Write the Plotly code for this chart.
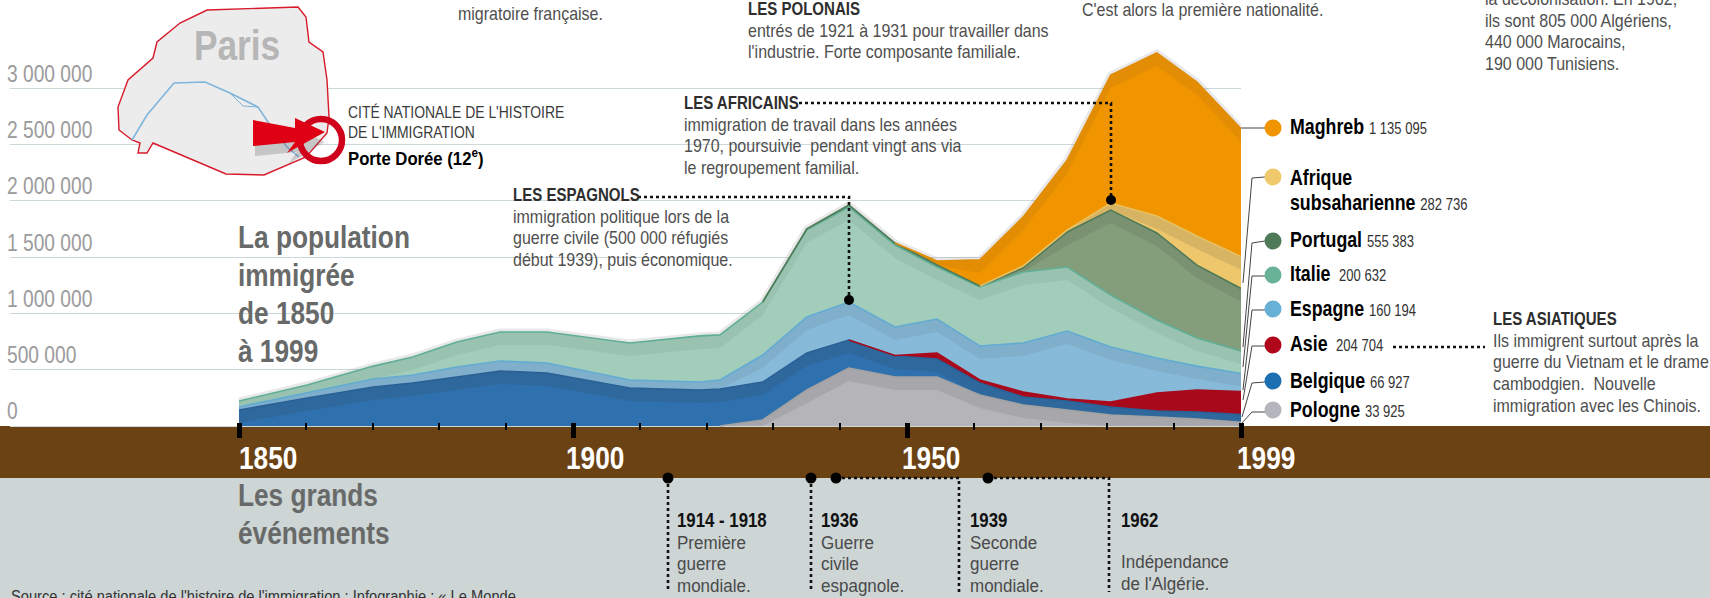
import json
import numpy as np
import plotly.graph_objects as go

W, H = 1710, 598
NARROW = "Liberation Sans"

# ---------- data (thousands of people) ----------
YEARS = [1850, 1860.2, 1870.1, 1876, 1882.6, 1889.1, 1896.1, 1908.5, 1919, 1922, 1928.4,
         1935, 1941.3, 1948.2, 1954.5, 1960.9, 1967.4, 1974, 1980.5, 1987.4, 1993.4, 2000]
POLOGNE = [0, 0, 0, 0, 0, 0, 0, 0, 0, 0, 53, 320, 515, 435, 435, 275, 187, 142, 98, 80, 62, 33.925]
BELGIQUE = [142, 249, 346, 382, 435, 488, 471, 337, 320, 329, 337, 329, 249, 187, 160, 107, 71, 80, 71, 53, 62, 66.927]
ASIE = [0, 0, 0, 0, 0, 0, 0, 0, 0, 0, 0, 0, 0, 4, 53, 27, 44, 18, 44, 160, 195, 204.704]
ESPAGNE = [27, 44, 71, 71, 89, 89, 89, 71, 71, 80, 240, 320, 337, 253, 302, 302, 435, 604, 488, 311, 213, 160.194]
ITALIE = [53, 71, 115, 160, 222, 258, 275, 329, 409, 400, 471, 773, 844, 728, 462, 524, 631, 568, 462, 337, 249, 200.632]
PORTUGAL = [0, 0, 0, 0, 0, 0, 0, 0, 0, 0, 0, 9, 18, 18, 18, 9, 36, 311, 755, 773, 648, 555.383]
AFRIQUE = [0, 0, 0, 0, 0, 0, 0, 0, 0, 0, 0, 0, 0, 0, 0, 0, 18, 18, 62, 151, 258, 282.736]
MAGHREB = [0, 0, 0, 0, 0, 0, 0, 0, 0, 0, 0, 0, 0, 0, 36, 231, 435, 622, 1137, 1448, 1368, 1135.095]

SERIES_NAMES = ["Pologne", "Belgique", "Asie", "Espagne", "Italie", "Portugal", "Afrique subsaharienne", "Maghreb"]
SERIES_VALUES = [POLOGNE, BELGIQUE, ASIE, ESPAGNE, ITALIE, PORTUGAL, AFRIQUE, MAGHREB]
FILL_COLORS = ["#b4b4b9", "#2f71ae", "#a80a1c", "#87bad9", "#a2cdba", "#849d7a", "#eec76c", "#f09400"]
EDGE_COLORS = ["#a3a3a3", "#2a6096", "#a80a1c", "#62abd2", "#5fae96", "#4f7a58", "#e8c060", "#e08c08"]
BAND_ALPHA = [0.10, 0.14, 0.0, 0.08, 0.07, 0.10, 0.12, 0.07]
LEGEND_COLORS = ["#b5b5bd", "#1c6fb0", "#b0061c", "#67b1d6", "#68b298", "#4f7a58", "#efc96c", "#f09400"]

Y_TICKS = [0, 500000, 1000000, 1500000, 2000000, 2500000, 3000000]
Y_LABELS = ["0", "500 000", "1 000 000", "1 500 000", "2 000 000", "2 500 000", "3 000 000"]
X_MAJOR = [1850, 1900, 1950, 2000]
X_MINOR = [1860, 1870, 1880, 1890, 1910, 1920, 1930, 1940, 1960, 1970, 1980, 1990]
X_LABELS = ["1850", "1900", "1950", "1999"]

LEGEND = [("Maghreb", "1 135 095", 128), ("Portugal", "555 383", 241), ("Italie", " 200 632", 275),
          ("Espagne", "160 194", 309), ("Asie", " 204 704", 345), ("Belgique", "66 927", 381),
          ("Pologne", "33 925", 410)]

# ---------- page helpers ----------
def px(x):
    return x / W

def py(y):
    return 1 - y / H

shapes, notes, squeeze = [], [], []

def text(x, y, s, size=18, color="#4a4a4a", sq=0.82):
    notes.append(dict(xref="paper", yref="paper", x=px(x), y=py(y), text=s, showarrow=False,
                      xanchor="left", yanchor="middle", align="left", borderpad=0,
                      font=dict(family=NARROW, size=size, color=color)))
    squeeze.append(sq)

def rect(x0, y0, x1, y1, color, layer="below"):
    shapes.append(dict(type="rect", xref="paper", yref="paper", x0=px(x0), x1=px(x1), y0=py(y0), y1=py(y1),
                       fillcolor=color, line_width=0, layer=layer))

def line(pts, color="#000000", width=1.0, dash="solid", layer="above"):
    path = "M " + " L ".join(f"{px(a):.5f},{py(b):.5f}" for a, b in pts)
    shapes.append(dict(type="path", xref="paper", yref="paper", path=path,
                       line=dict(color=color, width=width, dash=dash), layer=layer))

def poly(pts, fill, edge=None, width=0, opacity=1.0, layer="above"):
    path = "M " + " L ".join(f"{px(a):.5f},{py(b):.5f}" for a, b in pts) + " Z"
    shapes.append(dict(type="path", xref="paper", yref="paper", path=path, fillcolor=fill, opacity=opacity,
                       line=dict(color=edge or fill, width=width), layer=layer))

def dot(x, y, r, color="#000000", edge=None, width=0, fill=True):
    shapes.append(dict(type="circle", xref="paper", yref="paper", x0=px(x - r), x1=px(x + r),
                       y0=py(y - r), y1=py(y + r), fillcolor=color if fill else "rgba(0,0,0,0)",
                       line=dict(color=edge or color, width=width), layer="above"))

# ---------- background bands and gridline breaks ----------
rect(0, 426, W, 478, "#6b4213")
rect(0, 478, W, H, "#cdd5d5")
rect(119, 80, 333, 97, "#ffffff", "between")
rect(117, 135, 346, 152, "#ffffff", "between")
rect(680, 135, 972, 152, "#ffffff", "between")
rect(484, 190, 748, 265, "#ffffff", "between")

# ---------- Paris map ----------
poly([(207, 10), (298, 7), (306, 17), (309, 42), (323, 52), (327, 80), (329, 117), (327, 133), (306, 157),
      (264, 175), (226, 174), (153, 143), (147, 153), (138, 153), (140, 143), (132, 140), (119, 130),
      (118, 107), (128, 80), (153, 58), (157, 42), (180, 23)], "#ececec", "#d8192a", 1.4)
line([(132, 140), (147, 115), (174, 83), (205, 82), (230, 93), (258, 107), (268, 122), (287, 147), (299, 157)],
     "#7fb5dc", 1.6)
line([(230, 93), (243, 106), (258, 107)], "#7fb5dc", 1.0)
poly([(255, 128), (297, 136), (297, 128), (325, 142), (289, 163), (297, 152), (255, 156)], "#555555", opacity=0.25)
dot(321, 140, 21, edge="#d0021b", width=6.5, fill=False)
poly([(253, 120), (295, 128), (295, 118), (325, 132), (287, 153), (295, 142), (253, 146)], "#e00016")
text(193, 45, "<b>Paris</b>", 43, "#b6b6b6")

# ---------- dotted callouts ----------
DOTTED = dict(color="#111111", width=2.6, dash="dot")
line([(638, 197), (849, 197), (849, 298)], **DOTTED)
dot(849, 300, 5)
line([(799, 103), (1111, 103), (1111, 198)], **DOTTED)
dot(1111, 200, 5)
line([(1393, 347), (1485, 347)], **DOTTED)
line([(668, 478), (668, 590)], **DOTTED)
dot(668, 478, 5.5)
line([(811, 478), (811, 590)], **DOTTED)
dot(811, 478, 5.5)
line([(836, 478), (959, 478), (959, 592)], **DOTTED)
dot(836, 478, 5.5)
line([(988, 478), (1109, 478), (1109, 592)], **DOTTED)
dot(988, 478, 5.5)

# ---------- legend ----------
LEG_COL = dict(zip(SERIES_NAMES, LEGEND_COLORS))
LEADERS = {"Afrique subsaharienne": [(1243, 283), (1252, 178), (1265, 177)],
           "Portugal": [(1243, 347), (1252, 243), (1265, 241)],
           "Italie": [(1243, 367), (1252, 276), (1265, 276)],
           "Espagne": [(1243, 390), (1252, 310), (1265, 310)],
           "Asie": [(1243, 400), (1252, 346), (1265, 346)],
           "Belgique": [(1242, 417), (1252, 383), (1265, 382)],
           "Pologne": [(1242, 423), (1252, 412), (1265, 412)],
           "Maghreb": [(1241, 128), (1265, 128)]}
for name, pts in LEADERS.items():
    line(pts, "#444444", 1.0)
VALUE_SPAN = "<span style='font-size:16.5px;color:#333333'>{}</span>"
for name, value, y in LEGEND:
    dot(1273, y, 8.5, LEG_COL[name])
    text(1289, y - 1, f"<b>{name}</b> " + VALUE_SPAN.format(value), 22.5, "#000000", 0.79)
dot(1273, 177, 8.5, LEG_COL["Afrique subsaharienne"])
text(1289, 177, "<b>Afrique</b>", 22.5, "#000000", 0.79)
text(1289, 202, "<b>subsaharienne</b> " + VALUE_SPAN.format("282 736"), 22.5, "#000000", 0.79)

# ---------- text blocks ----------
def block(x, y0, head, lines, step=21.7):
    y = y0
    if head:
        text(x, y, f"<b>{head}</b>", 17.5, "#2e2e2e", 0.86)
        y += step
    for s in lines:
        text(x, y, s, 18, "#4f4f4f", 0.89)
        y += step

block(457, 14, None, ["migratoire française."])
block(747, 9, "LES POLONAIS", ["entrés de 1921 à 1931 pour travailler dans", "l'industrie. Forte composante familiale."])
block(1081, 10, None, ["C'est alors la première nationalité."])
block(1484, -1, None, ["la décolonisation. En 1962,", "ils sont 805 000 Algériens,", "440 000 Marocains,", "190 000 Tunisiens."])
block(683, 103, "LES AFRICAINS", ["immigration de travail dans les années", "1970, poursuivie  pendant vingt ans via", "le regroupement familial."])
block(512, 195, "LES ESPAGNOLS", ["immigration politique lors de la", "guerre civile (500 000 réfugiés", "début 1939), puis économique."])
block(1492, 319, "LES ASIATIQUES", ["Ils immigrent surtout après la", "guerre du Vietnam et le drame", "cambodgien.  Nouvelle", "immigration avec les Chinois."])
text(347, 112, "CITÉ NATIONALE DE L'HISTOIRE", 16, "#3a3a3a", 0.87)
text(347, 133, "DE L'IMMIGRATION", 16, "#3a3a3a", 0.87)
text(347, 157, "<b>Porte Dorée (12<sup>e</sup>)</b>", 19, "#000000", 0.88)

TITLE = "#686a6a"
for s, y in [("La population", 237), ("immigrée", 275), ("de 1850", 313), ("à 1999", 351)]:
    text(237, y, f"<b>{s}</b>", 32, TITLE)
text(237, 495, "<b>Les grands</b>", 32, TITLE)
text(237, 533, "<b>événements</b>", 32, TITLE)

for x, lab in zip([238, 565, 901, 1236], X_LABELS):
    text(x, 458, f"<b>{lab}</b>", 32, "#ffffff")

EVENTS = [(676, "1914 - 1918", ["Première", "guerre", "mondiale."]),
          (820, "1936", ["Guerre", "civile", "espagnole."]),
          (969, "1939", ["Seconde", "guerre", "mondiale."])]
for x, head, body in EVENTS:
    text(x, 519, f"<b>{head}</b>", 20.5, "#111111")
    for i, s in enumerate(body):
        text(x, 542 + 21.5 * i, s, 18.5, "#4a4a4a", 0.92)
text(1120, 519, "<b>1962</b>", 20.5, "#111111")
text(1120, 561, "Indépendance", 18.5, "#4a4a4a", 0.92)
text(1120, 583, "de l'Algérie.", 18.5, "#4a4a4a", 0.92)
text(10, 596, "Source : cité nationale de l'histoire de l'immigration ; Infographie : « Le Monde", 16.5, "#333333", 0.89)

# ---------- traces ----------
Y_PER_PX = 500000 / 56.3
BAND_DEPTH = 13 * Y_PER_PX
fig = go.Figure()
cum = np.cumsum(np.array(SERIES_VALUES, dtype=float), axis=0) * 1000
fig.add_trace(go.Scatter(x=YEARS, y=cum[-1], mode="lines", hoverinfo="skip", showlegend=False,
                         line=dict(color="rgba(110,110,110,0.16)", width=7)))
base = np.zeros(len(YEARS))
rev = YEARS[::-1]
for i, name in enumerate(SERIES_NAMES):
    fig.add_trace(go.Scatter(x=YEARS + rev, y=list(cum[i]) + list(base[::-1]), mode="lines", fill="toself",
                             fillcolor=FILL_COLORS[i], line=dict(width=0), name=name, showlegend=False,
                             hoverinfo="skip"))
    if BAND_ALPHA[i] > 0:
        low = np.maximum(base, cum[i] - BAND_DEPTH)
        fig.add_trace(go.Scatter(x=YEARS + rev, y=list(cum[i]) + list(low[::-1]), mode="lines", fill="toself",
                                 fillcolor=f"rgba(50,50,50,{BAND_ALPHA[i]})", line=dict(width=0),
                                 showlegend=False, hoverinfo="skip"))
    base = cum[i]
for i, name in enumerate(SERIES_NAMES):
    vals = np.array(SERIES_VALUES[i], dtype=float)
    keep = vals > 0
    keep[:-1] |= vals[1:] > 0
    fig.add_trace(go.Scatter(x=YEARS, y=np.where(keep, cum[i], np.nan), mode="lines", showlegend=False,
                             hoverinfo="skip", connectgaps=False,
                             line=dict(color=EDGE_COLORS[i], width=1.6)))

fig.update_layout(
    width=W, height=H, margin=dict(l=0, r=0, t=0, b=0), paper_bgcolor="#ffffff", plot_bgcolor="rgba(0,0,0,0)",
    showlegend=False, shapes=shapes, annotations=notes,
    xaxis=dict(domain=[px(10), px(1241)], range=[1850 - 229 / 6.68, 2000], anchor="free", position=py(422),
               tickmode="array", tickvals=X_MAJOR, showticklabels=False, ticks="outside", ticklen=15,
               tickwidth=4.5, tickcolor="#000000", showgrid=False, zeroline=False, showline=False,
               minor=dict(ticks="outside", tickmode="array", tickvals=X_MINOR, ticklen=7, tickwidth=1.6,
                          tickcolor="#000000", showgrid=False)),
    yaxis=dict(domain=[0, 1], range=[(426 - H) * Y_PER_PX, 426 * Y_PER_PX], tickmode="array", tickvals=Y_TICKS,
               ticktext=Y_LABELS, ticklabelposition="inside", ticklabelshift=-15,
               tickfont=dict(family=NARROW, size=24, color="#9b9b9b"), showgrid=True, gridcolor="#cdd8d8",
               gridwidth=1.2, zeroline=False, showline=False, ticks=""),
)

# Page without body margin; text narrowed to the condensed width of the reference type.
POST = """
document.body.style.margin = '0';
var SQ = %s;
function narrow(t, s, dx) {
  var x = parseFloat(t.getAttribute('x')) || 0;
  var prev = t.getAttribute('transform') || '';
  t.setAttribute('transform', prev + ' translate(' + (x + dx) + ',0) scale(' + s + ',1) translate(' + (-x) + ',0)');
}
document.querySelectorAll('.annotation').forEach(function (g) {
  var i = parseInt(g.getAttribute('data-index'));
  var t = g.querySelector('.annotation-text');
  if (t) narrow(t, SQ[i], 0);
});
document.querySelectorAll('.ytick text').forEach(function (t) { narrow(t, 0.8, -6); });
""" % json.dumps(squeeze)
fig.write_html("out.html", post_script=POST, config={"displayModeBar": False})
